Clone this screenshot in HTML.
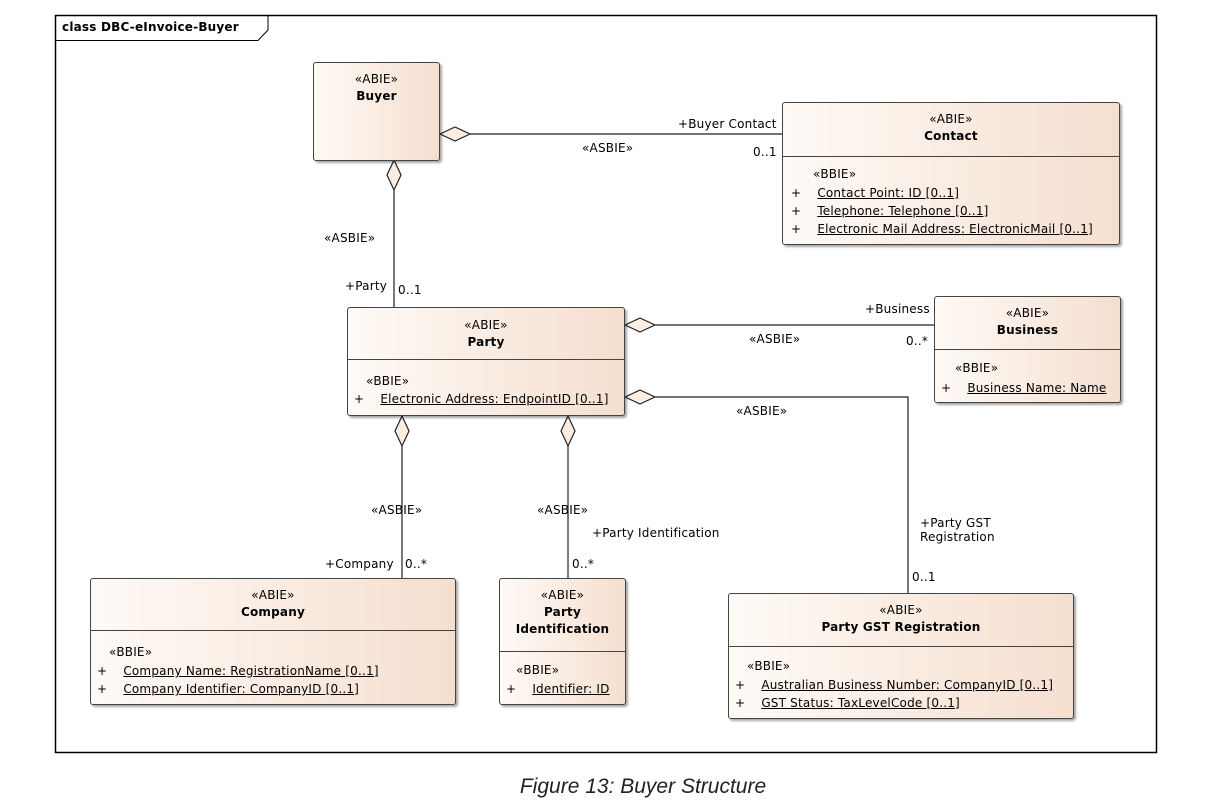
<!DOCTYPE html>
<html><head><meta charset="utf-8"><style>
body{margin:0;width:1230px;height:811px;background:#fff;font-family:"DejaVu Sans","Liberation Sans",sans-serif;font-size:12px;letter-spacing:0.2px;color:#000;position:relative;overflow:hidden}
.b{position:absolute;border:1px solid #444;border-radius:3px;background:linear-gradient(90deg,#fefaf6,#f5dfcf);box-shadow:2px 2px 2px rgba(0,0,0,.35);box-sizing:border-box}
.h{text-align:center;line-height:17px}
.h b{font-weight:bold}
.d{position:absolute;left:0;right:0;border-top:1px solid #444}
.a{position:absolute;white-space:nowrap;line-height:18px}
.a u{text-decoration:underline}
.t{position:absolute;white-space:nowrap;font-size:12px}
</style></head><body>
<svg width="1230" height="811" style="position:absolute;left:0;top:0">
<rect x="55.5" y="15.5" width="1101" height="737" fill="none" stroke="#000" stroke-width="1.5"/>
<path d="M55.5 40.5 H258 L268 30 V15.5" fill="none" stroke="#000"/>
<g stroke="#222" fill="none" stroke-width="1.2">
<path d="M470 134 H782"/>
<path d="M394 190 V307"/>
<path d="M655 325 H934"/>
<path d="M655 397 H908 V593"/>
<path d="M402 446 V578"/>
<path d="M568 446 V578"/>
</g>
<g stroke="#222" fill="#fbeee0" stroke-width="1.2">
<path d="M440 134 L455 127 L470 134 L455 141 Z"/>
<path d="M394 160 L401 175 L394 190 L387 175 Z"/>
<path d="M625 325 L640 318 L655 325 L640 332 Z"/>
<path d="M625 397 L640 390 L655 397 L640 404 Z"/>
<path d="M402 416 L409 431 L402 446 L395 431 Z"/>
<path d="M568 416 L575 431 L568 446 L561 431 Z"/>
</g>
</svg>
<div class="t" style="left:62px;top:20px;font-weight:bold">class DBC-eInvoice-Buyer</div>

<div class="b" style="left:313px;top:62px;width:127px;height:99px"><div class="h" style="margin-top:8px">«ABIE»<br><b>Buyer</b></div></div>

<div class="b" style="left:782px;top:102px;width:338px;height:143px"><div class="h" style="margin-top:8px">«ABIE»<br><b>Contact</b></div><div class="d" style="top:53px"></div>
<div class="a" style="left:30px;top:62px">«BBIE»</div>
<div class="a" style="left:8px;top:81px">+&nbsp;&nbsp;&nbsp;&nbsp;<u>Contact Point: ID [0..1]</u></div>
<div class="a" style="left:8px;top:99px">+&nbsp;&nbsp;&nbsp;&nbsp;<u>Telephone: Telephone [0..1]</u></div>
<div class="a" style="left:8px;top:117px">+&nbsp;&nbsp;&nbsp;&nbsp;<u>Electronic Mail Address: ElectronicMail [0..1]</u></div></div>

<div class="b" style="left:347px;top:307px;width:278px;height:109px"><div class="h" style="margin-top:9px">«ABIE»<br><b>Party</b></div><div class="d" style="top:51px"></div>
<div class="a" style="left:18px;top:64px">«BBIE»</div>
<div class="a" style="left:6px;top:82px">+&nbsp;&nbsp;&nbsp;&nbsp;<u>Electronic Address: EndpointID [0..1]</u></div></div>

<div class="b" style="left:934px;top:296px;width:187px;height:107px"><div class="h" style="margin-top:8px">«ABIE»<br><b>Business</b></div><div class="d" style="top:52px"></div>
<div class="a" style="left:20px;top:62px">«BBIE»</div>
<div class="a" style="left:6px;top:82px">+&nbsp;&nbsp;&nbsp;&nbsp;<u>Business Name: Name</u></div></div>

<div class="b" style="left:90px;top:578px;width:366px;height:127px"><div class="h" style="margin-top:8px">«ABIE»<br><b>Company</b></div><div class="d" style="top:51px"></div>
<div class="a" style="left:18px;top:64px">«BBIE»</div>
<div class="a" style="left:6px;top:83px">+&nbsp;&nbsp;&nbsp;&nbsp;<u>Company Name: RegistrationName [0..1]</u></div>
<div class="a" style="left:6px;top:101px">+&nbsp;&nbsp;&nbsp;&nbsp;<u>Company Identifier: CompanyID [0..1]</u></div></div>

<div class="b" style="left:499px;top:578px;width:127px;height:127px"><div class="h" style="margin-top:8px">«ABIE»<br><b>Party<br>Identification</b></div><div class="d" style="top:72px"></div>
<div class="a" style="left:16px;top:82px">«BBIE»</div>
<div class="a" style="left:6px;top:101px">+&nbsp;&nbsp;&nbsp;&nbsp;<u>Identifier: ID</u></div></div>

<div class="b" style="left:728px;top:593px;width:346px;height:126px"><div class="h" style="margin-top:8px">«ABIE»<br><b>Party GST Registration</b></div><div class="d" style="top:52px"></div>
<div class="a" style="left:18px;top:63px">«BBIE»</div>
<div class="a" style="left:6px;top:82px">+&nbsp;&nbsp;&nbsp;&nbsp;<u>Australian Business Number: CompanyID [0..1]</u></div>
<div class="a" style="left:6px;top:100px">+&nbsp;&nbsp;&nbsp;&nbsp;<u>GST Status: TaxLevelCode [0..1]</u></div></div>

<div class="t" style="left:678px;top:117px">+Buyer Contact</div>
<div class="t" style="left:582px;top:141px">«ASBIE»</div>
<div class="t" style="left:753px;top:145px">0..1</div>
<div class="t" style="left:324px;top:231px">«ASBIE»</div>
<div class="t" style="left:345px;top:279px">+Party</div>
<div class="t" style="left:398px;top:283px">0..1</div>
<div class="t" style="left:865px;top:302px">+Business</div>
<div class="t" style="left:749px;top:332px">«ASBIE»</div>
<div class="t" style="left:906px;top:334px">0..*</div>
<div class="t" style="left:736px;top:404px">«ASBIE»</div>
<div class="t" style="left:371px;top:503px">«ASBIE»</div>
<div class="t" style="left:537px;top:503px">«ASBIE»</div>
<div class="t" style="left:592px;top:526px">+Party Identification</div>
<div class="t" style="left:920px;top:516px">+Party GST<br>Registration</div>
<div class="t" style="left:325px;top:557px">+Company</div>
<div class="t" style="left:405px;top:557px">0..*</div>
<div class="t" style="left:572px;top:557px">0..*</div>
<div class="t" style="left:912px;top:570px">0..1</div>
<div class="t" style="left:0;width:1286px;text-align:center;top:775px;font-family:'Liberation Sans',sans-serif;letter-spacing:0;font-size:21px;font-style:italic;color:#222">Figure 13: Buyer Structure</div>
</body></html>
